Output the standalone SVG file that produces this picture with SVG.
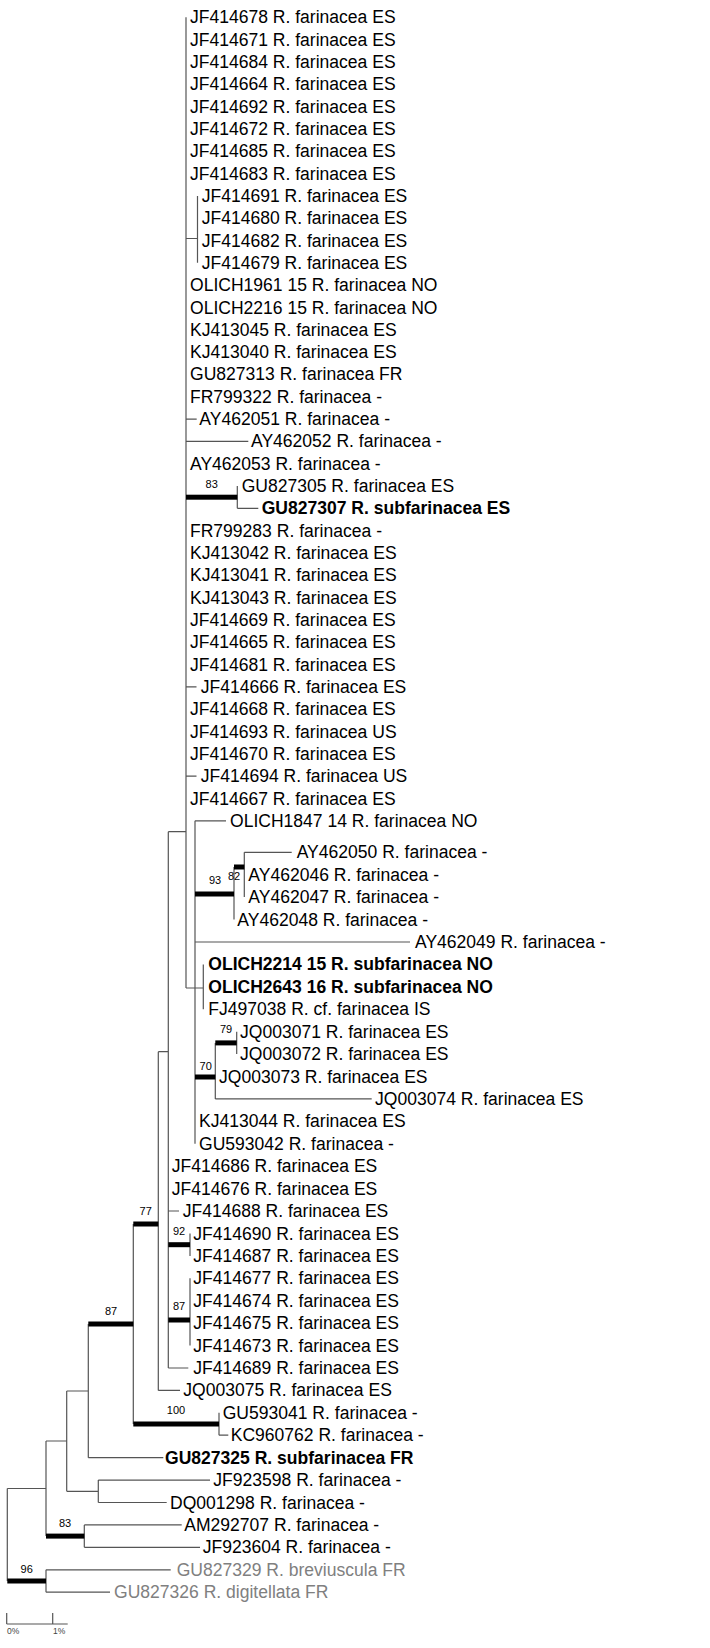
<svg xmlns="http://www.w3.org/2000/svg" width="710" height="1648" viewBox="0 0 710 1648">
<style>
.t{font-family:"Liberation Sans",Arial,sans-serif;font-size:17.55px;fill:#000}
.b{font-weight:bold}
.g{fill:#808080}
.bs{font-family:"Liberation Sans",Arial,sans-serif;font-size:11px;fill:#000;text-anchor:middle}
.sc{font-family:"Liberation Sans",Arial,sans-serif;font-size:8.5px;fill:#444}
.e{stroke:#555;stroke-width:1.2;fill:none}
.bar{fill:#000}
</style>
<rect width="710" height="1648" fill="#fff"/>
<g id="edges">
<path class="e" d="M186,17.3V988 M168.3,831.7H186 M186,988H203.3
M186,238.5H197.5 M197.5,195.9V262.8
M186,419.1H196.7 M186,441.4H248.3
M237.3,486V508.3 M237.3,508.3H258.3
M186,686.9H196.5 M186,776.2H196.5
M195,820.8V1143.8 M195,820.8H226
M234,867V919.6 M244.3,852.3V897.1 M244.3,852.3H291.7
M195,942H410 M203.3,964.4V1009.2
M215.3,1042.9V1098.9 M236.7,1031.7V1054.1 M215.3,1098.9H371.7
M168.3,831.7V1368 M158.3,1051.7H168.3 M168.3,1211H179
M190,1233.5V1255.9 M190,1278.3V1345.6 M168.3,1368H188.3
M158.3,1051.7V1390.4 M158.3,1390.4H180
M133.3,1224V1424 M219,1412.8V1435.2 M219,1435.2H228.3
M88.3,1324V1457.7 M88.3,1457.7H163.3 M66.7,1391H88.3
M66.7,1391V1491.3 M66.7,1491.3H98.3 M98.3,1480.1V1502.5 M98.3,1480.1H210 M98.3,1502.5H166.7
M46,1441H66.7 M46,1441V1536.1 M84.3,1524.9V1547.3 M84.3,1524.9H181.7 M84.3,1547.3H200
M7.3,1488.5H46 M7.3,1488.5V1581 M46,1569.8V1592.2 M46,1569.8H170.7 M46,1592.2H110"/>
<rect class="bar" x="186" y="494.7" width="51.3" height="5"/>
<rect class="bar" x="195" y="891.5" width="39" height="5"/>
<rect class="bar" x="234" y="864.5" width="10.3" height="5"/>
<rect class="bar" x="195" y="1074.5" width="20.3" height="5"/>
<rect class="bar" x="215.3" y="1040.4" width="21.4" height="5"/>
<rect class="bar" x="168.3" y="1242.2" width="21.7" height="5"/>
<rect class="bar" x="168.3" y="1317.5" width="21.7" height="5"/>
<rect class="bar" x="133.3" y="1221.5" width="25" height="5"/>
<rect class="bar" x="133.3" y="1421.5" width="85.7" height="5"/>
<rect class="bar" x="88.3" y="1321.5" width="45" height="5"/>
<rect class="bar" x="46" y="1533.6" width="38.3" height="5"/>
<rect class="bar" x="7.3" y="1578.5" width="38.7" height="5"/>
</g>
<g id="support">
<text class="bs" x="211.7" y="488.3">83</text>
<text class="bs" x="215" y="884">93</text>
<text class="bs" x="234" y="880">82</text>
<text class="bs" x="226" y="1033.3">79</text>
<text class="bs" x="205.7" y="1069.7">70</text>
<text class="bs" x="179" y="1235">92</text>
<text class="bs" x="179" y="1309.7">87</text>
<text class="bs" x="145.7" y="1215">77</text>
<text class="bs" x="111" y="1314.7">87</text>
<text class="bs" x="176" y="1414">100</text>
<text class="bs" x="65" y="1527.3">83</text>
<text class="bs" x="26.7" y="1573">96</text>
</g>
<g id="scale">
<path class="e" d="M6.7,1624H67.7 M6.7,1613V1624 M52.7,1613V1624"/>
<text class="sc" x="7" y="1634">0%</text>
<text class="sc" x="53" y="1634">1%</text>
</g>
<g id="n1"><text class="t" x="190" y="23.3">JF414678 R. farinacea ES</text></g>
<g id="n2"><text class="t" x="190" y="45.6">JF414671 R. farinacea ES</text></g>
<g id="n3"><text class="t" x="190" y="67.9">JF414684 R. farinacea ES</text></g>
<g id="n4"><text class="t" x="190" y="90.3">JF414664 R. farinacea ES</text></g>
<g id="n5"><text class="t" x="190" y="112.6">JF414692 R. farinacea ES</text></g>
<g id="n6"><text class="t" x="190" y="134.9">JF414672 R. farinacea ES</text></g>
<g id="n7"><text class="t" x="190" y="157.2">JF414685 R. farinacea ES</text></g>
<g id="n8"><text class="t" x="190" y="179.5">JF414683 R. farinacea ES</text></g>
<g id="n9"><text class="t" x="201.7" y="201.9">JF414691 R. farinacea ES</text></g>
<g id="n10"><text class="t" x="201.7" y="224.2">JF414680 R. farinacea ES</text></g>
<g id="n11"><text class="t" x="201.7" y="246.5">JF414682 R. farinacea ES</text></g>
<g id="n12"><text class="t" x="201.7" y="268.8">JF414679 R. farinacea ES</text></g>
<g id="n13"><text class="t" x="190" y="291.1">OLICH1961 15 R. farinacea NO</text></g>
<g id="n14"><text class="t" x="190" y="313.5">OLICH2216 15 R. farinacea NO</text></g>
<g id="n15"><text class="t" x="190" y="335.8">KJ413045 R. farinacea ES</text></g>
<g id="n16"><text class="t" x="190" y="358.1">KJ413040 R. farinacea ES</text></g>
<g id="n17"><text class="t" x="190" y="380.4">GU827313 R. farinacea FR</text></g>
<g id="n18"><text class="t" x="190" y="402.7">FR799322 R. farinacea -</text></g>
<g id="n19"><text class="t" x="199.3" y="425.1">AY462051 R. farinacea -</text></g>
<g id="n20"><text class="t" x="251" y="447.4">AY462052 R. farinacea -</text></g>
<g id="n21"><text class="t" x="190" y="469.7">AY462053 R. farinacea -</text></g>
<g id="n22"><text class="t" x="241.7" y="492">GU827305 R. farinacea ES</text></g>
<g id="n23"><text class="t b" x="261.7" y="514.3">GU827307 R. subfarinacea ES</text></g>
<g id="n24"><text class="t" x="190" y="536.7">FR799283 R. farinacea -</text></g>
<g id="n25"><text class="t" x="190" y="559">KJ413042 R. farinacea ES</text></g>
<g id="n26"><text class="t" x="190" y="581.3">KJ413041 R. farinacea ES</text></g>
<g id="n27"><text class="t" x="190" y="603.6">KJ413043 R. farinacea ES</text></g>
<g id="n28"><text class="t" x="190" y="625.9">JF414669 R. farinacea ES</text></g>
<g id="n29"><text class="t" x="190" y="648.3">JF414665 R. farinacea ES</text></g>
<g id="n30"><text class="t" x="190" y="670.6">JF414681 R. farinacea ES</text></g>
<g id="n31"><text class="t" x="200.7" y="692.9">JF414666 R. farinacea ES</text></g>
<g id="n32"><text class="t" x="190" y="715.2">JF414668 R. farinacea ES</text></g>
<g id="n33"><text class="t" x="190" y="737.5">JF414693 R. farinacea US</text></g>
<g id="n34"><text class="t" x="190" y="759.9">JF414670 R. farinacea ES</text></g>
<g id="n35"><text class="t" x="200.7" y="782.2">JF414694 R. farinacea US</text></g>
<g id="n36"><text class="t" x="190" y="804.5">JF414667 R. farinacea ES</text></g>
<g id="n37"><text class="t" x="230" y="826.8">OLICH1847 14 R. farinacea NO</text></g>
<g id="n38"><text class="t" x="296.7" y="858.3">AY462050 R. farinacea -</text></g>
<g id="n39"><text class="t" x="248.3" y="880.7">AY462046 R. farinacea -</text></g>
<g id="n40"><text class="t" x="248.3" y="903.1">AY462047 R. farinacea -</text></g>
<g id="n41"><text class="t" x="237.3" y="925.6">AY462048 R. farinacea -</text></g>
<g id="n42"><text class="t" x="415" y="948">AY462049 R. farinacea -</text></g>
<g id="n43"><text class="t b" x="208.3" y="970.4">OLICH2214 15 R. subfarinacea NO</text></g>
<g id="n44"><text class="t b" x="208.3" y="992.8">OLICH2643 16 R. subfarinacea NO</text></g>
<g id="n45"><text class="t" x="208.3" y="1015.2">FJ497038 R. cf. farinacea IS</text></g>
<g id="n46"><text class="t" x="240" y="1037.7">JQ003071 R. farinacea ES</text></g>
<g id="n47"><text class="t" x="240" y="1060.1">JQ003072 R. farinacea ES</text></g>
<g id="n48"><text class="t" x="219" y="1082.5">JQ003073 R. farinacea ES</text></g>
<g id="n49"><text class="t" x="375" y="1104.9">JQ003074 R. farinacea ES</text></g>
<g id="n50"><text class="t" x="199" y="1127.3">KJ413044 R. farinacea ES</text></g>
<g id="n51"><text class="t" x="199" y="1149.8">GU593042 R. farinacea -</text></g>
<g id="n52"><text class="t" x="171.7" y="1172.2">JF414686 R. farinacea ES</text></g>
<g id="n53"><text class="t" x="171.7" y="1194.6">JF414676 R. farinacea ES</text></g>
<g id="n54"><text class="t" x="182.7" y="1217">JF414688 R. farinacea ES</text></g>
<g id="n55"><text class="t" x="193.3" y="1239.5">JF414690 R. farinacea ES</text></g>
<g id="n56"><text class="t" x="193.3" y="1261.9">JF414687 R. farinacea ES</text></g>
<g id="n57"><text class="t" x="193.3" y="1284.3">JF414677 R. farinacea ES</text></g>
<g id="n58"><text class="t" x="193.3" y="1306.7">JF414674 R. farinacea ES</text></g>
<g id="n59"><text class="t" x="193.3" y="1329.1">JF414675 R. farinacea ES</text></g>
<g id="n60"><text class="t" x="193.3" y="1351.6">JF414673 R. farinacea ES</text></g>
<g id="n61"><text class="t" x="193.3" y="1374">JF414689 R. farinacea ES</text></g>
<g id="n62"><text class="t" x="183.3" y="1396.4">JQ003075 R. farinacea ES</text></g>
<g id="n63"><text class="t" x="222.7" y="1418.8">GU593041 R. farinacea -</text></g>
<g id="n64"><text class="t" x="230.7" y="1441.2">KC960762 R. farinacea -</text></g>
<g id="n65"><text class="t b" x="165" y="1463.7">GU827325 R. subfarinacea FR</text></g>
<g id="n66"><text class="t" x="213.3" y="1486.1">JF923598 R. farinacea -</text></g>
<g id="n67"><text class="t" x="170" y="1508.5">DQ001298 R. farinacea -</text></g>
<g id="n68"><text class="t" x="184.3" y="1530.9">AM292707 R. farinacea -</text></g>
<g id="n69"><text class="t" x="202.7" y="1553.3">JF923604 R. farinacea -</text></g>
<g id="n70"><text class="t g" x="176.7" y="1575.8">GU827329 R. breviuscula FR</text></g>
<g id="n71"><text class="t g" x="114" y="1598.2">GU827326 R. digitellata FR</text></g>
</svg>
